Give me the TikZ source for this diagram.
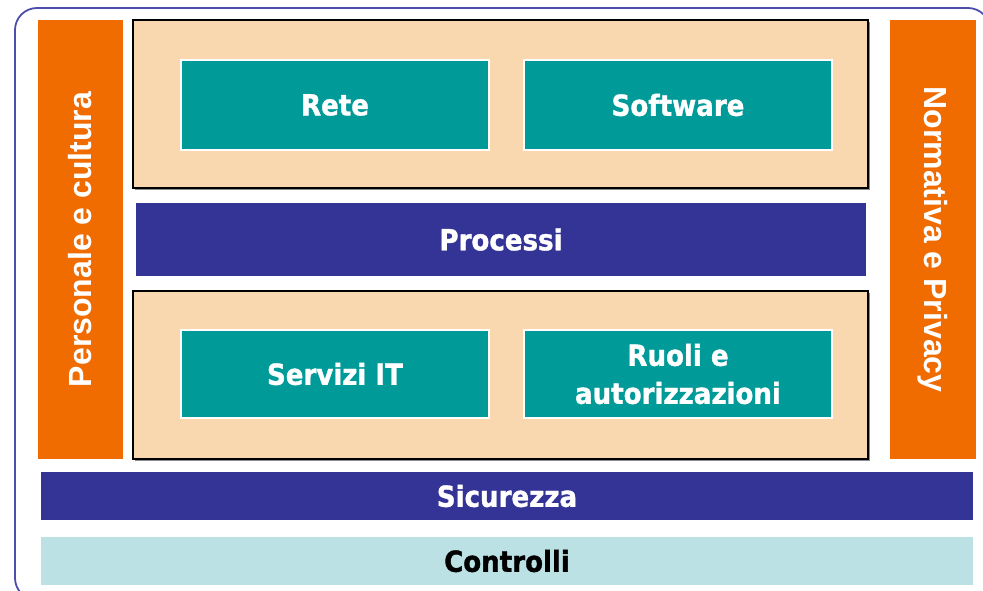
\documentclass[tikz,border=0pt]{standalone}
\usepackage{fontspec}
\setmainfont{DejaVu Sans Condensed}[BoldFeatures={FakeBold=1.2}]
\newfontfamily\sidefont{Liberation Sans}
\definecolor{orng}{HTML}{F06B00}
\definecolor{beige}{HTML}{F9D8AF}
\definecolor{tealc}{HTML}{009A99}
\definecolor{navy}{HTML}{343497}
\definecolor{lcyan}{HTML}{BCE1E4}
\definecolor{frame}{HTML}{4D4DAA}
\tikzset{
  box/.style={rectangle, inner sep=0pt, align=center, font=\fontsize{29}{38}\selectfont\bfseries},
  sidebar/.style={box, fill=orng, text=white, font=\sidefont\fontsize{32}{36}\selectfont\bfseries},
  layer/.style={box, fill=beige, draw=black, line width=1.8pt},
  shade/.style={fill=black!45},
  module/.style={box, fill=tealc, draw=white, line width=1.6pt, text=white},
  band/.style={box, fill=navy, text=white},
  lband/.style={box, fill=lcyan, text=black}
}
\begin{document}
\begin{tikzpicture}[x=1pt,y=-1pt]
\useasboundingbox (0,0) rectangle (983,591);
\clip (0,0) rectangle (983,591);
\draw[frame, line width=1.8pt, rounded corners=22pt] (15,8) rectangle (990,600);
\node[sidebar, minimum width=85pt, minimum height=439pt] (persL) at (80.5,239.5) {\rotatebox{90}{Personale e cultura}};
\node[sidebar, minimum width=86pt, minimum height=439pt] (persR) at (933,239.5) {\rotatebox{-90}{Normativa e Privacy}};
\fill[shade] (135,22) rectangle (870,190);
\node[layer, minimum width=735pt, minimum height=168pt] (upper) at (500.5,104) {};
\node[band, minimum width=730pt, minimum height=73pt] (proc) at (501,239.5) {Processi};
\fill[shade] (135,293) rectangle (870,461);
\node[layer, minimum width=735pt, minimum height=168pt] (lower) at (500.5,375) {};
\node[module, minimum width=308pt, minimum height=90pt] (rete) at (335,105) {Rete};
\node[module, minimum width=308pt, minimum height=90pt] (soft) at (678,105) {Software};
\node[module, minimum width=308pt, minimum height=88pt] (serv) at (335,374) {Servizi IT};
\node[module, minimum width=308pt, minimum height=88pt] (ruoli) at (678,374) {Ruoli e\\autorizzazioni};
\node[band, minimum width=932pt, minimum height=48pt] (sic) at (507,496) {Sicurezza};
\node[lband, minimum width=932pt, minimum height=48pt] (ctrl) at (507,561) {Controlli};
\end{tikzpicture}
\end{document}
